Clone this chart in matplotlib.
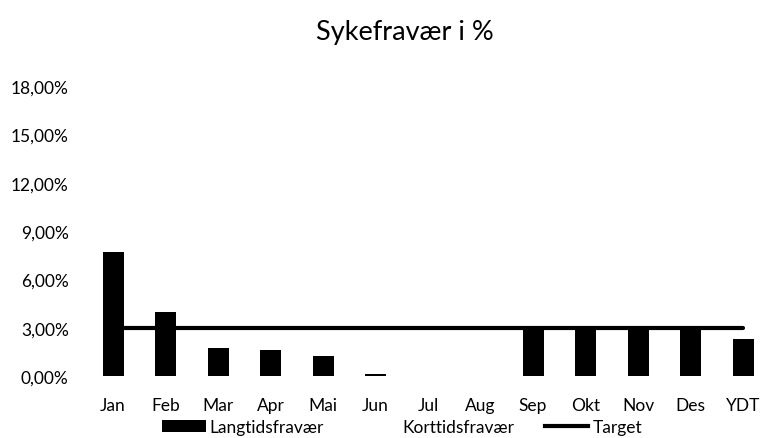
import matplotlib.pyplot as plt
from matplotlib.patches import Patch
from matplotlib.lines import Line2D

plt.rcParams['font.family'] = ['Lato', 'DejaVu Sans']

# data
months = ['Jan', 'Feb', 'Mar', 'Apr', 'Mai', 'Jun', 'Jul', 'Aug',
          'Sep', 'Okt', 'Nov', 'Des', 'YDT']
langtid = [7.7, 4.0, 1.75, 1.6, 1.25, 0.1, 0, 0, 2.95, 2.95, 2.95, 2.95, 2.3]
korttid = [0, 0, 0, 0, 0, 0, 0, 0, 0, 0, 0, 0, 0]
target = [3.0] * 13
yticks = [0, 3, 6, 9, 12, 15, 18]
ytick_labels = ['0,00%', '3,00%', '6,00%', '9,00%', '12,00%', '15,00%', '18,00%']

fig = plt.figure(figsize=(7.63, 4.39), dpi=100)
ax = fig.add_axes([0.1137, 0.1412, 0.8945, 0.6606])

x = range(len(months))
ax.bar(x, langtid, width=0.4, color='black')
ax.bar(x, korttid, width=0.4, bottom=langtid, color='white')
ax.plot(x, target, color='black', linewidth=3.0, solid_capstyle='round')

ax.set_xlim(-0.5, 12.5)
ax.set_ylim(0, 18)
ax.set_yticks(yticks)
ax.set_yticklabels(ytick_labels)
ax.set_xticks(list(x))
ax.set_xticklabels(months)
ax.tick_params(axis='both', length=0, labelsize=12.5)
ax.tick_params(axis='y', pad=13)
ax.tick_params(axis='x', pad=15)
for s in ax.spines.values():
    s.set_visible(False)

fig.text(0.531, 0.927, 'Sykefravær i %', ha='center', va='center', fontsize=19.5)

handles = [Patch(facecolor='black', label='Langtidsfravær'),
           Patch(facecolor='white', label='Korttidsfravær'),
           Line2D([0], [0], color='black', linewidth=3.0, label='Target')]
fig.legend(handles=handles, loc='center', bbox_to_anchor=(0.527, 0.025),
           ncol=3, frameon=False, fontsize=12.5, handlelength=2.5,
           handletextpad=0.25, columnspacing=1.75)

fig.savefig('out.png', dpi=100)
